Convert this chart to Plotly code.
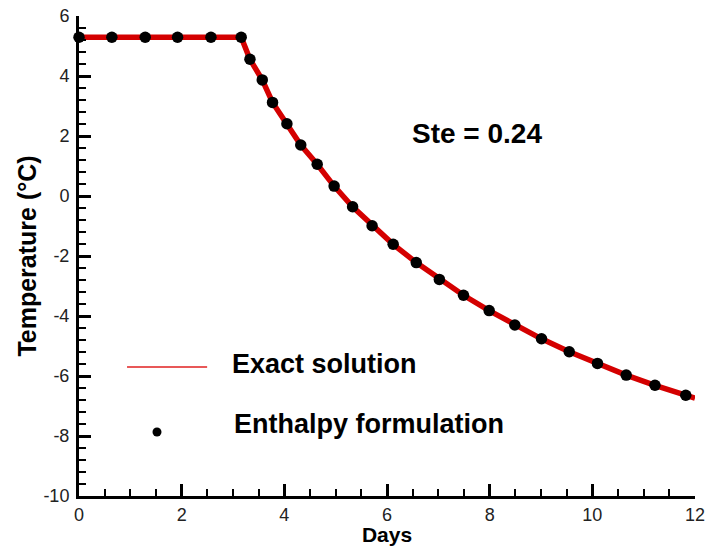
import plotly.graph_objects as go

# Enthalpy formulation (dots)
enth_days = [0.0, 0.64, 1.29, 1.92, 2.57, 3.16, 3.33, 3.57, 3.77, 4.05, 4.32, 4.64,
             4.97, 5.33, 5.71, 6.12, 6.57, 7.02, 7.49, 7.99, 8.49, 9.01, 9.55,
             10.1, 10.66, 11.22, 11.82]
enth_temp = [5.29, 5.29, 5.29, 5.29, 5.29, 5.29, 4.56, 3.87, 3.12, 2.41, 1.70, 1.06,
             0.33, -0.36, -0.99, -1.61, -2.22, -2.78, -3.31, -3.82, -4.30, -4.76, -5.19,
             -5.58, -5.97, -6.31, -6.64]

# Exact solution (line)
exact_days = [0.0, 3.16, 3.33, 3.57, 3.77, 4.05, 4.32, 4.64, 4.97, 5.33, 5.71, 6.12,
              6.57, 7.02, 7.49, 7.99, 8.49, 9.01, 9.55, 10.1, 10.66, 11.22, 11.82, 12.0]
exact_temp = [5.29, 5.29, 4.56, 3.87, 3.12, 2.41, 1.70, 1.06, 0.33, -0.36, -0.99, -1.61,
              -2.22, -2.78, -3.31, -3.82, -4.30, -4.76, -5.19, -5.58, -5.97, -6.31, -6.64, -6.74]

x_ticks = [0, 2, 4, 6, 8, 10, 12]
y_ticks = [6, 4, 2, 0, -2, -4, -6, -8, -10]

FONT = "Liberation Sans, Arial, sans-serif"

fig = go.Figure()
fig.add_trace(go.Scatter(x=exact_days, y=exact_temp, mode="lines",
                         line=dict(color="#d40000", width=5.5), showlegend=False,
                         cliponaxis=False))
fig.add_trace(go.Scatter(x=enth_days, y=enth_temp, mode="markers",
                         marker=dict(color="black", size=11.5), showlegend=False,
                         cliponaxis=False))

axis_common = dict(
    showgrid=False, zeroline=False, showline=True, linecolor="black", linewidth=3,
    ticks="inside", ticklen=12, tickwidth=3, tickcolor="black",
    tickfont=dict(family=FONT, size=18, color="#222"),
    automargin=False,
)

fig.update_xaxes(range=[0, 12], tickvals=x_ticks, ticktext=[str(v) for v in x_ticks],
                 minor=dict(dtick=0.5, ticks="inside", ticklen=7, tickwidth=2, tickcolor="black"),
                 title=dict(text="Days", font=dict(family=FONT, size=21, color="black", weight="bold"),
                            standoff=3),
                 **axis_common)
fig.update_yaxes(range=[-10, 6], tickvals=y_ticks, ticktext=[str(v) for v in y_ticks],
                 ticklabelstandoff=3,
                 minor=dict(dtick=0.4, ticks="inside", ticklen=7, tickwidth=2, tickcolor="black"),
                 title=dict(text="Temperature (°C)", font=dict(family=FONT, size=25, color="black", weight="bold"),
                            standoff=0),
                 **axis_common)

fig.add_shape(type="line", xref="paper", yref="paper", x0=0.078, x1=0.208, y0=0.269, y1=0.269,
              line=dict(color="#e02020", width=1.5))
fig.add_shape(type="circle", xref="paper", yref="paper", xsizemode="pixel", ysizemode="pixel",
              xanchor=0.1266, yanchor=0.1333, x0=-4.5, x1=4.5, y0=-4.5, y1=4.5,
              fillcolor="black", line=dict(color="black", width=0))

fig.add_annotation(text="Exact solution", xref="paper", yref="paper", x=0.245, y=0.275,
                   xanchor="left", yanchor="middle", showarrow=False,
                   font=dict(family=FONT, size=27, color="black", weight="bold"))
fig.add_annotation(text="Enthalpy formulation", xref="paper", yref="paper", x=0.248, y=0.15,
                   xanchor="left", yanchor="middle", showarrow=False,
                   font=dict(family=FONT, size=27, color="black", weight="bold"))
fig.add_annotation(text="Ste = 0.24", xref="paper", yref="paper", x=0.646, y=0.756,
                   xanchor="center", yanchor="middle", showarrow=False,
                   font=dict(family=FONT, size=28, color="black", weight="bold"))

fig.update_layout(width=707, height=546, margin=dict(l=79, r=12, t=16, b=50),
                  plot_bgcolor="white", paper_bgcolor="white", showlegend=False)

fig.write_html("out.html")
